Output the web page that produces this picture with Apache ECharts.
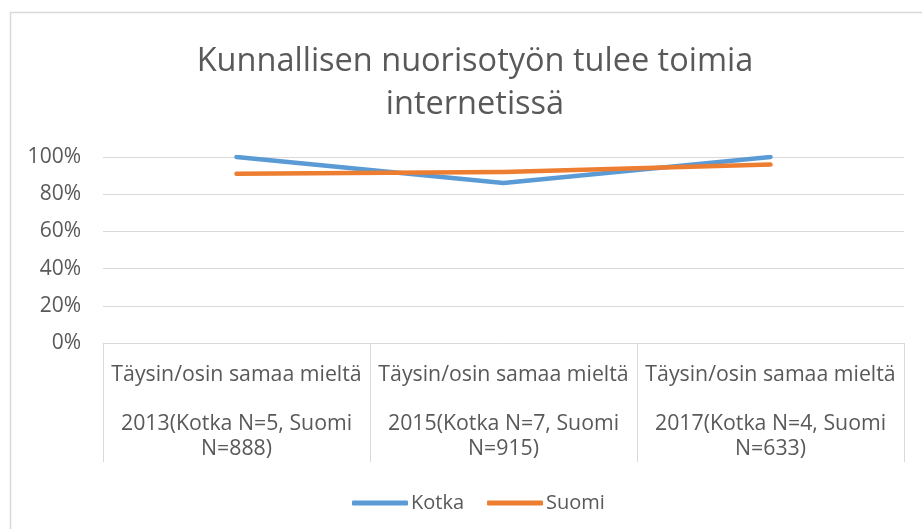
<!DOCTYPE html>
<html>
<head>
<meta charset="utf-8">
<script src="https://cdn.jsdelivr.net/npm/echarts@6/dist/echarts.min.js"></script>
<style>
  html, body { margin: 0; padding: 0; background: #fff; }
  #chart { width: 922px; height: 529px; }
</style>
</head>
<body>
<div id="chart"></div>
<script>
// data
const categories = [
  'Täysin/osin samaa mieltä\n\n2013(Kotka N=5, Suomi\nN=888)',
  'Täysin/osin samaa mieltä\n\n2015(Kotka N=7, Suomi\nN=915)',
  'Täysin/osin samaa mieltä\n\n2017(Kotka N=4, Suomi\nN=633)'
]
const kotka = [100, 86, 100]
const suomi = [91, 92, 96]
const yTicks = [0, 20, 40, 60, 80, 100]

const fontFamily = '"Open Sans", "Noto Sans", sans-serif'
const textColor = '#595959'
const lineColor = '#d9d9d9'

const chart = echarts.init(document.getElementById('chart'), null, { renderer: 'canvas' })

chart.setOption({
  backgroundColor: '#fff',
  animation: false,
  textStyle: { fontFamily, color: textColor },
  graphic: [
    {
      type: 'rect',
      shape: { x: 10.5, y: 12.5, width: 1000, height: 1000 },
      style: { fill: 'none', stroke: lineColor, lineWidth: 1.5 }
    }
  ],
  title: {
    text: 'Kunnallisen nuorisotyön tulee toimia\ninternetissä',
    left: 470,
    top: 35,
    textAlign: 'center',
    textStyle: {
      fontFamily,
      fontWeight: 'normal',
      fontSize: 32.5,
      lineHeight: 43,
      color: textColor
    }
  },
  legend: {
    data: ['Kotka', 'Suomi'],
    left: 347,
    top: 488,
    icon: 'roundRect',
    itemWidth: 56,
    itemHeight: 5,
    itemGap: 23,
    textStyle: { fontFamily, fontSize: 20, color: textColor, padding: [0, 0, 0, -2] }
  },
  grid: {
    left: 103,
    right: 18,
    top: 157,
    bottom: 186,
    containLabel: false
  },
  xAxis: {
    type: 'category',
    data: categories,
    boundaryGap: true,
    axisLine: { show: true, lineStyle: { color: lineColor, width: 1 } },
    axisTick: { show: true, interval: 0, length: 119, lineStyle: { color: lineColor } },
    axisLabel: {
      interval: 0,
      margin: 20,
      fontFamily,
      fontSize: 21.3,
      lineHeight: 24.5,
      color: textColor,
      align: 'center'
    }
  },
  yAxis: {
    type: 'value',
    min: yTicks[0],
    max: yTicks[yTicks.length - 1],
    interval: 20,
    axisLine: { show: false },
    axisTick: { show: false },
    splitLine: { lineStyle: { color: lineColor, width: 1 } },
    axisLabel: {
      formatter: '{value}%',
      margin: 22,
      fontFamily,
      fontSize: 21,
      color: textColor
    }
  },
  series: [
    {
      name: 'Kotka',
      type: 'line',
      data: kotka,
      symbol: 'none',
      color: '#5B9BD5',
      lineStyle: { width: 4.5, cap: 'round', join: 'round' }
    },
    {
      name: 'Suomi',
      type: 'line',
      data: suomi,
      symbol: 'none',
      color: '#ED7D31',
      lineStyle: { width: 4.5, cap: 'round', join: 'round' }
    }
  ]
})
</script>
</body>
</html>
